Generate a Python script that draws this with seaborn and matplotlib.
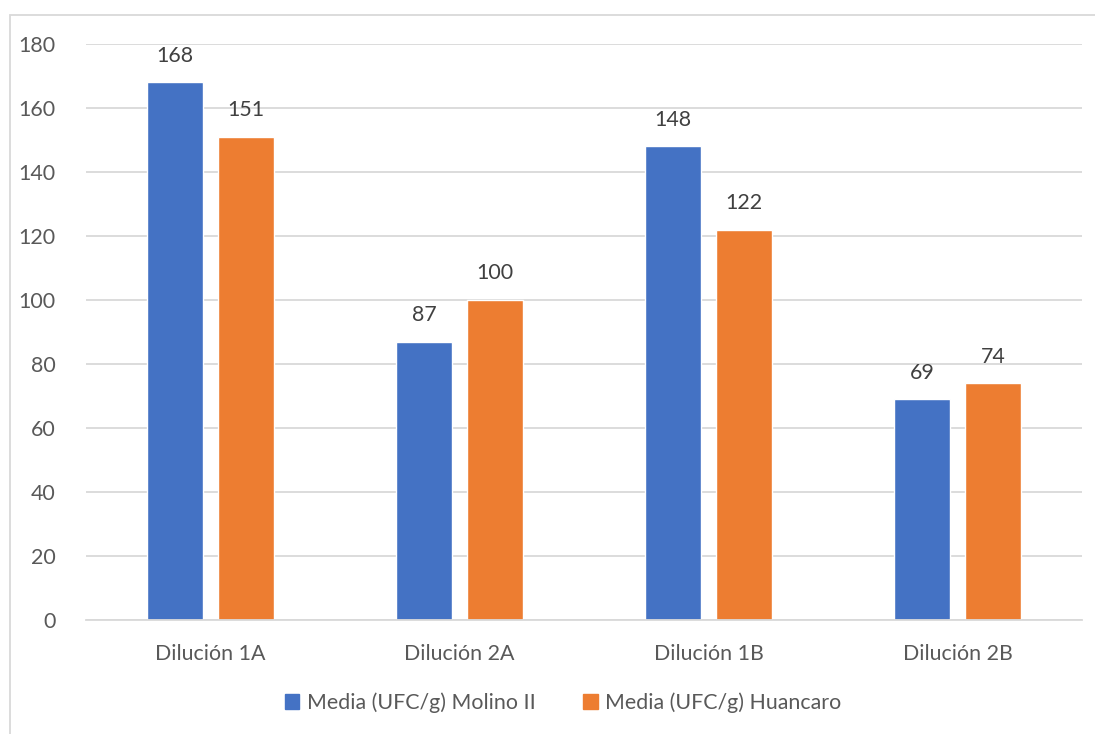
import matplotlib
matplotlib.use("Agg")
import matplotlib.pyplot as plt
from matplotlib.patches import Rectangle
import seaborn as sns
import pandas as pd

categorias = ["Dilución 1A", "Dilución 2A", "Dilución 1B", "Dilución 2B"]
molino_ii = [168, 87, 148, 69]
huancaro = [151, 100, 122, 74]
series = ["Media (UFC/g) Molino II", "Media (UFC/g) Huancaro"]
colores = ["#4472C4", "#ED7D31"]
y_ticks = [0, 20, 40, 60, 80, 100, 120, 140, 160, 180]

df = pd.DataFrame({
    "categoria": categorias * 2,
    "serie": [series[0]] * len(categorias) + [series[1]] * len(categorias),
    "valor": molino_ii + huancaro,
})

sns.set_theme(style="white")
plt.rcParams["font.family"] = ["Lato", "DejaVu Sans"]

texto = "#595959"
grid = "#D9D9D9"
fs = 15.4

fig = plt.figure(figsize=(10.95, 7.34), dpi=100)
ax = fig.add_axes([86 / 1095, 1 - 620 / 734, (1082 - 86) / 1095, (620 - 44) / 734])

sns.barplot(data=df, x="categoria", y="valor", hue="serie", order=categorias,
            hue_order=series, palette=colores, width=0.572, gap=0.213,
            saturation=1, ax=ax, legend=True)

for cont in ax.containers:
    ax.bar_label(cont, padding=12, fontsize=fs, color="#404040")

ax.set_ylim(0, 180)
ax.set_xlim(-0.5, 3.5)
ax.set_yticks(y_ticks)
ax.yaxis.grid(True, color=grid, linewidth=1.3)
ax.set_axisbelow(True)
for s in ["top", "right", "left"]:
    ax.spines[s].set_visible(False)
ax.spines["bottom"].set_color(grid)
ax.spines["bottom"].set_linewidth(1.3)
ax.tick_params(axis="y", length=0, pad=22, labelsize=fs, labelcolor=texto)
ax.tick_params(axis="x", length=0, pad=17, labelsize=fs, labelcolor=texto)
ax.set_xlabel("")
ax.set_ylabel("")

ax.legend_.remove()
handles = [Rectangle((0, 0), 1, 1, color=c) for c in colores]
fig.legend(handles, series, loc="center", bbox_to_anchor=(563 / 1095, 1 - 703 / 734),
           ncol=2, frameon=False, fontsize=fs, labelcolor=texto,
           handlelength=0.7, handleheight=0.7, handletextpad=0.35, columnspacing=2.2)

fig.patches.append(Rectangle((10 / 1095, -0.05), 1.1, 1 - 15 / 734 + 0.05,
                             transform=fig.transFigure, fill=False,
                             edgecolor=grid, linewidth=1.3, clip_on=False))

fig.savefig("out.png", dpi=100, facecolor="white")
